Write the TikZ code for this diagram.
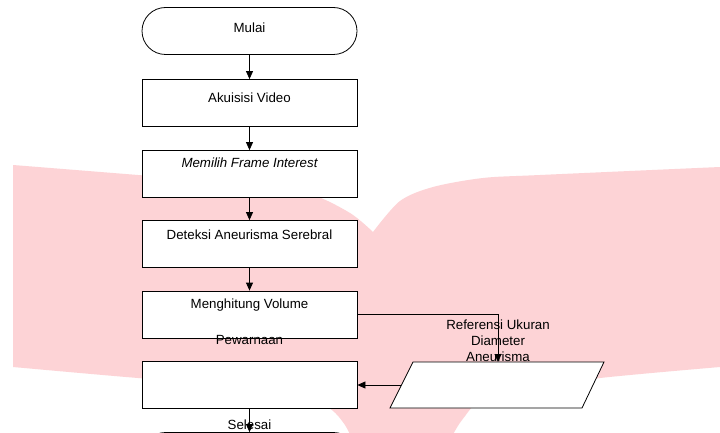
\documentclass[tikz,border=0pt]{standalone}
\usepackage{fontspec}
\setmainfont{Liberation Sans}
\usetikzlibrary{arrows.meta}
\definecolor{wmpink}{RGB}{253,211,214}
\begin{document}
\begin{tikzpicture}[x=1pt,y=-1pt,
		kotak/.style={draw, line width=0.8pt, fill=white, minimum width=215pt, minimum height=47pt, inner sep=0pt},
		terminal/.style={kotak, rounded corners=23.5pt},
		teks/.style={font=\fontsize{13.3}{16}\selectfont, inner sep=0pt, align=center},
		panah/.style={line width=0.8pt, -{Triangle[length=8pt,width=7pt]}}]
			\useasboundingbox (0,0) rectangle (720,433);
			\clip (0,0) rectangle (720,433);
			\fill[white] (0,0) rectangle (720,433);
			\fill[wmpink] plot[smooth] coordinates {(13,165) (138,175) (250,184) (310,194) (350,213) (373,232)}
				-- plot[smooth] coordinates {(373,232) (400,201) (433,187) (483,178) (540,175) (720,167)}
				-- (720,367)
				-- plot[smooth] coordinates {(720,367) (600,378) (495,392) (462,420) (440,460)}
				-- (400,480) -- (360,460)
				-- plot[smooth] coordinates {(360,460) (345,425) (320,403) (250,386) (138,378) (13,367)}
				-- cycle;
			\coordinate (c1) at (249.5,31);
			\coordinate (c2) at (249.5,103);
			\coordinate (c3) at (249.5,174);
			\coordinate (c4) at (249.5,244);
			\coordinate (c5) at (249.5,314.5);
			\coordinate (c6) at (249.5,385);
			\coordinate (c7) at (249.5,456);
			\coordinate (refatas) at (498,362);
			\coordinate (refkiri) at (401,385);
			\node[terminal] (mulai) at (c1) {};
			\node[kotak] (akuisisi) at (c2) {};
			\node[kotak] (memilih) at (c3) {};
			\node[kotak] (deteksi) at (c4) {};
			\node[kotak] (hitung) at (c5) {};
			\node[kotak] (warna) at (c6) {};
			\node[terminal] (selesai) at (c7) {};
			\draw[line width=0.8pt, fill=white] (413,362) -- (604,362) -- (582,408) -- (390,408) -- cycle;
			\draw[panah] (mulai) to (akuisisi);
			\draw[panah] (akuisisi) to (memilih);
			\draw[panah] (memilih) to (deteksi);
			\draw[panah] (deteksi) to (hitung);
			\draw[panah] (hitung.east) -| (refatas);
			\draw[panah] (refkiri) to (warna.east);
			\draw[panah] (warna) to (selesai);
			\node[teks] (t-mulai) at (249.5,28) {Mulai};
			\node[teks] (t-akuisisi) at (249.5,98) {Akuisisi Video};
			\node[teks] (t-memilih) at (249.5,163) {\itshape Memilih Frame Interest};
			\node[teks] (t-deteksi) at (249.5,235) {Deteksi Aneurisma Serebral};
			\node[teks] (t-hitung) at (249.5,305) {Menghitung Volume};
			\node[teks] (t-warna) at (249.5,340) {Pewarnaan};
			\node[teks] (t-ref) at (498,341) {Referensi Ukuran\\Diameter\\Aneurisma};
			\node[teks] (t-selesai) at (249.5,425) {Selesai};
		\end{tikzpicture}
\end{document}
